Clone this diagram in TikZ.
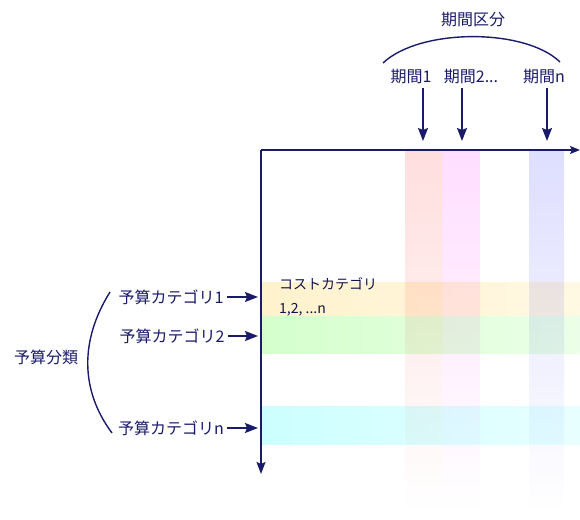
\documentclass[tikz,border=0pt]{standalone}
\usepackage{fontspec}
\newfontfamily\jpfont{Noto Sans CJK JP}
\usetikzlibrary{arrows.meta}
\definecolor{navy}{HTML}{1A1A6A}
\definecolor{rowyellow}{HTML}{FFF2CC}
\definecolor{rowgreen}{HTML}{D4FFCC}
\definecolor{rowcyan}{HTML}{CCFFFF}

\begin{document}
\begin{tikzpicture}[x=1pt,y=-1pt,font=\jpfont\fontsize{16}{18}\selectfont]
\useasboundingbox (0,0) rectangle (580,519);
% rows
\shade[left color=rowyellow,right color=rowyellow!55] (262,282) rectangle (580,316);
\shade[left color=rowgreen,right color=rowgreen!45] (262,316) rectangle (580,353);
\shade[left color=rowcyan,right color=rowcyan!45] (262,406) rectangle (580,444);
% columns
\shade[blend mode=multiply,top color=red!13,middle color=red!6,bottom color=white] (405,151) rectangle (442,512);
\shade[blend mode=multiply,top color=magenta!13,middle color=magenta!5,bottom color=white] (442,151) rectangle (480,512);
\shade[blend mode=multiply,top color=blue!13,middle color=blue!5,bottom color=white] (529,151) rectangle (564,512);

\node[text=navy,align=center] (0) at (473,20) {期間区分};
\node[text=navy,align=center] (1) at (411,77) {期間1};
\node[text=navy,align=center] (2) at (471,77) {期間2...};
\node[text=navy,align=center] (3) at (544,77) {期間n};
\node[text=navy,align=center] (4) at (46,357) {予算分類};
\node[text=navy,align=center] (5) at (171,297) {予算カテゴリ1};
\node[text=navy,align=center] (6) at (172,336) {予算カテゴリ2};
\node[text=navy,align=center] (7) at (171,428) {予算カテゴリn};
\node[text=navy!70!black,align=left,anchor=north west,inner sep=0pt,font=\jpfont\fontsize{14}{24}\selectfont] (8) at (279,277) {コストカテゴリ\\1,2, ...n};

\coordinate (o) at (261,150);
\coordinate (xe) at (580,150);
\coordinate (ye) at (261,474);
\coordinate (a1) at (423,141);
\coordinate (a2) at (462,141);
\coordinate (a3) at (547,141);
\coordinate (b1) at (258,297);
\coordinate (b2) at (258,336);
\coordinate (b3) at (258,428);
\coordinate (t1) at (383,63);
\coordinate (t2) at (560,62);
\coordinate (l1) at (110,292);
\coordinate (l2) at (112,433);

\draw [-{Stealth[length=10pt,width=8pt,inset=2pt]},navy,line width=1.5pt] (o) -- (xe);
\draw [-{Stealth[length=12pt,width=9pt,inset=2pt]},navy,line width=1.5pt] (o) -- (ye);
\draw [-{Stealth[length=13pt,width=10pt,inset=2pt]},navy,line width=1.5pt] (1.south -| a1) -- (a1);
\draw [-{Stealth[length=13pt,width=10pt,inset=2pt]},navy,line width=1.5pt] (2.south -| a2) -- (a2);
\draw [-{Stealth[length=13pt,width=10pt,inset=2pt]},navy,line width=1.5pt] (3.south -| a3) -- (a3);
\draw [-{Stealth[length=13pt,width=10pt,inset=2pt]},navy,line width=1.5pt] (5) -- (b1);
\draw [-{Stealth[length=13pt,width=10pt,inset=2pt]},navy,line width=1.5pt] (6) -- (b2);
\draw [-{Stealth[length=13pt,width=10pt,inset=2pt]},navy,line width=1.5pt] (7) -- (b3);
\draw [navy,line width=1.4pt] (t1) .. controls (420,28) and (525,28) .. (t2);
\draw [navy,line width=1.4pt] (l1) .. controls (80,340) and (80,390) .. (l2);
\end{tikzpicture}
\end{document}
